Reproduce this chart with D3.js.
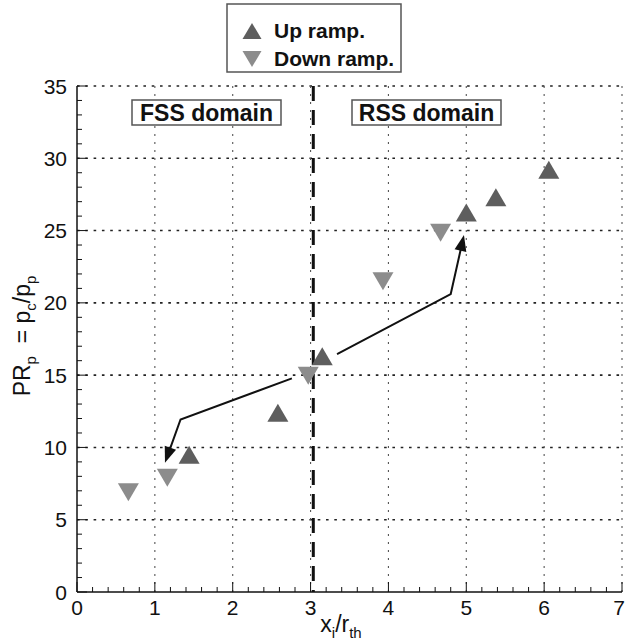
<!DOCTYPE html>
<html>
<head>
<meta charset="utf-8">
<script src="https://cdn.jsdelivr.net/npm/d3@7/dist/d3.min.js"></script>
<style>
  html, body { margin: 0; padding: 0; background: #fff; }
  svg { display: block; }
  text { font-family: "Liberation Sans", Arial, Helvetica, sans-serif; fill: #111; }
</style>
</head>
<body>
<svg id="chart" width="625" height="643"></svg>
<script>
// Pressure ratio versus inlet position, up and down ramps
const upX   = [1.44, 2.58, 3.15, 5.0, 5.38, 6.06];
const upY   = [9.5, 12.4, 16.3, 26.25, 27.3, 29.2];
const downX = [0.66, 1.16, 2.97, 3.93, 4.67];
const downY = [6.9, 7.9, 14.95, 21.5, 24.85];

const xTicks = [0, 1, 2, 3, 4, 5, 6, 7];
const yTicks = [0, 5, 10, 15, 20, 25, 30, 35];

// FSS / RSS boundary
const boundaryX = 3.035;

// Annotation arrows (data coordinates, last point is the tip)
const arrowFSS = [[2.76, 14.78], [1.33, 11.93], [1.13, 8.94]];
const arrowRSS = [[3.34, 16.46], [4.80, 20.61], [4.97, 24.69]];

const svg = d3.select("#chart");
const x = d3.scaleLinear().domain([0, 7]).range([77, 622]);
const y = d3.scaleLinear().domain([0, 35]).range([592, 86]);

// Grid
const grid = svg.append("g");
grid.selectAll("line.h").data(yTicks.filter(d => d > 0)).enter().append("line")
  .attr("x1", x(0)).attr("x2", x(7))
  .attr("y1", d => y(d)).attr("y2", d => y(d))
  .attr("stroke", "#222").attr("stroke-width", 1.6)
  .attr("stroke-dasharray", "2.6 5.7");
grid.selectAll("line.v").data(xTicks.filter(d => d > 0)).enter().append("line")
  .attr("x1", d => x(d)).attr("x2", d => x(d))
  .attr("y1", y(0)).attr("y2", y(35))
  .attr("stroke", "#555").attr("stroke-width", 1.1)
  .attr("stroke-dasharray", "2 6");

// Axes with inward ticks
const xMinor = d3.range(0, 7.001, 0.2);
const yMinor = d3.range(0, 35.001, 1);
const ax = svg.append("g");
ax.selectAll("line.xm").data(xMinor).enter().append("line")
  .attr("x1", d => x(d)).attr("x2", d => x(d))
  .attr("y1", y(0)).attr("y2", d => y(0) - (Math.abs(d - Math.round(d)) < 1e-6 ? 10 : 5))
  .attr("stroke", "#111").attr("stroke-width", 1);
ax.selectAll("line.ym").data(yMinor).enter().append("line")
  .attr("y1", d => y(d)).attr("y2", d => y(d))
  .attr("x1", x(0)).attr("x2", d => x(0) + (d % 5 === 0 ? 10 : 5))
  .attr("stroke", "#111").attr("stroke-width", 1);
ax.append("line").attr("x1", x(0)).attr("x2", x(7)).attr("y1", y(0)).attr("y2", y(0))
  .attr("stroke", "#111").attr("stroke-width", 1.5);
ax.append("line").attr("x1", x(0)).attr("x2", x(0)).attr("y1", y(0)).attr("y2", y(35))
  .attr("stroke", "#111").attr("stroke-width", 1.5);

ax.selectAll("text.xt").data(xTicks).enter().append("text")
  .attr("x", d => d === 7 ? 625 : x(d)).attr("y", 615)
  .attr("text-anchor", d => d === 7 ? "end" : "middle")
  .attr("font-size", 21).text(d => d);
ax.selectAll("text.yt").data(yTicks).enter().append("text")
  .attr("x", 67).attr("y", d => y(d) + 7.5)
  .attr("text-anchor", "end").attr("font-size", 21).text(d => d);

// Axis titles
const xl = svg.append("text").attr("x", 341).attr("y", 632)
  .attr("text-anchor", "middle").attr("font-size", 23);
xl.append("tspan").text("x");
xl.append("tspan").attr("dy", 6).attr("font-size", 15).text("i");
xl.append("tspan").attr("dy", -6).text("/r");
xl.append("tspan").attr("dy", 6).attr("font-size", 15).text("th");

const yl = svg.append("text")
  .attr("transform", "translate(30,336) rotate(-90)")
  .attr("text-anchor", "middle").attr("font-size", 23);
yl.append("tspan").text("PR");
yl.append("tspan").attr("dy", 6).attr("font-size", 15).text("p");
yl.append("tspan").attr("dy", -6).text("\u00a0 = p");
yl.append("tspan").attr("dy", 6).attr("font-size", 15).text("c");
yl.append("tspan").attr("dy", -6).text("/p");
yl.append("tspan").attr("dy", 6).attr("font-size", 15).text("p");

// Domain boundary
svg.append("line")
  .attr("x1", x(boundaryX)).attr("x2", x(boundaryX))
  .attr("y1", y(35)).attr("y2", y(0))
  .attr("stroke", "#111").attr("stroke-width", 3)
  .attr("stroke-dasharray", "15 9");

// Domain labels
function boxLabel(txt, x0, y0, w, h) {
  const g = svg.append("g");
  g.append("rect").attr("x", x0).attr("y", y0).attr("width", w).attr("height", h)
    .attr("fill", "#fff").attr("stroke", "#555").attr("stroke-width", 1.5);
  g.append("text").attr("x", x0 + w / 2).attr("y", y0 + h - 4.5)
    .attr("text-anchor", "middle").attr("font-size", 23).attr("font-weight", "bold")
    .text(txt);
}
boxLabel("FSS domain", 132, 100, 149, 25);
boxLabel("RSS domain", 352, 100, 149, 25);

// Markers
const TW = 21, TH = 18;
const upTri = (cx, cy, w = TW, h = TH) =>
  `M${cx},${cy - h / 2}L${cx + w / 2},${cy + h / 2}L${cx - w / 2},${cy + h / 2}Z`;
const downTri = (cx, cy, w = TW, h = TH) =>
  `M${cx},${cy + h / 2}L${cx + w / 2},${cy - h / 2}L${cx - w / 2},${cy - h / 2}Z`;

const upColor = "#5e5e5e", downColor = "#8c8c8c";
svg.append("g").selectAll("path").data(upX.map((v, i) => [v, upY[i]])).enter()
  .append("path").attr("d", d => upTri(x(d[0]), y(d[1]))).attr("fill", upColor);
svg.append("g").selectAll("path").data(downX.map((v, i) => [v, downY[i]])).enter()
  .append("path").attr("d", d => downTri(x(d[0]), y(d[1]))).attr("fill", downColor);

// Arrows
function arrow(pts) {
  const p = pts.map(d => [x(d[0]), y(d[1])]);
  const n = p.length;
  const [tx, ty] = p[n - 1], [sx, sy] = p[n - 2];
  const L = Math.hypot(tx - sx, ty - sy), ux = (tx - sx) / L, uy = (ty - sy) / L;
  const hl = 16, hw = 6;
  const bx = tx - ux * hl, by = ty - uy * hl;
  const line = p.slice(0, n - 1).concat([[bx + ux * 2, by + uy * 2]]);
  svg.append("path").attr("d", d3.line()(line))
    .attr("fill", "none").attr("stroke", "#111").attr("stroke-width", 2);
  svg.append("path")
    .attr("d", `M${tx},${ty}L${bx - uy * hw},${by + ux * hw}L${bx + uy * hw},${by - ux * hw}Z`)
    .attr("fill", "#111");
}
arrow(arrowFSS);
arrow(arrowRSS);

// Legend
const lg = svg.append("g");
lg.append("rect").attr("x", 227).attr("y", 4).attr("width", 174).attr("height", 68)
  .attr("fill", "#fff").attr("stroke", "#555").attr("stroke-width", 1.5);
lg.append("path").attr("d", upTri(252, 31, 19, 16)).attr("fill", upColor);
lg.append("path").attr("d", downTri(252, 59, 19, 16)).attr("fill", downColor);
lg.append("text").attr("x", 274).attr("y", 38).attr("font-size", 21)
  .attr("font-weight", "bold").text("Up ramp.");
lg.append("text").attr("x", 274).attr("y", 66).attr("font-size", 21)
  .attr("font-weight", "bold").text("Down ramp.");
</script>
</body>
</html>
